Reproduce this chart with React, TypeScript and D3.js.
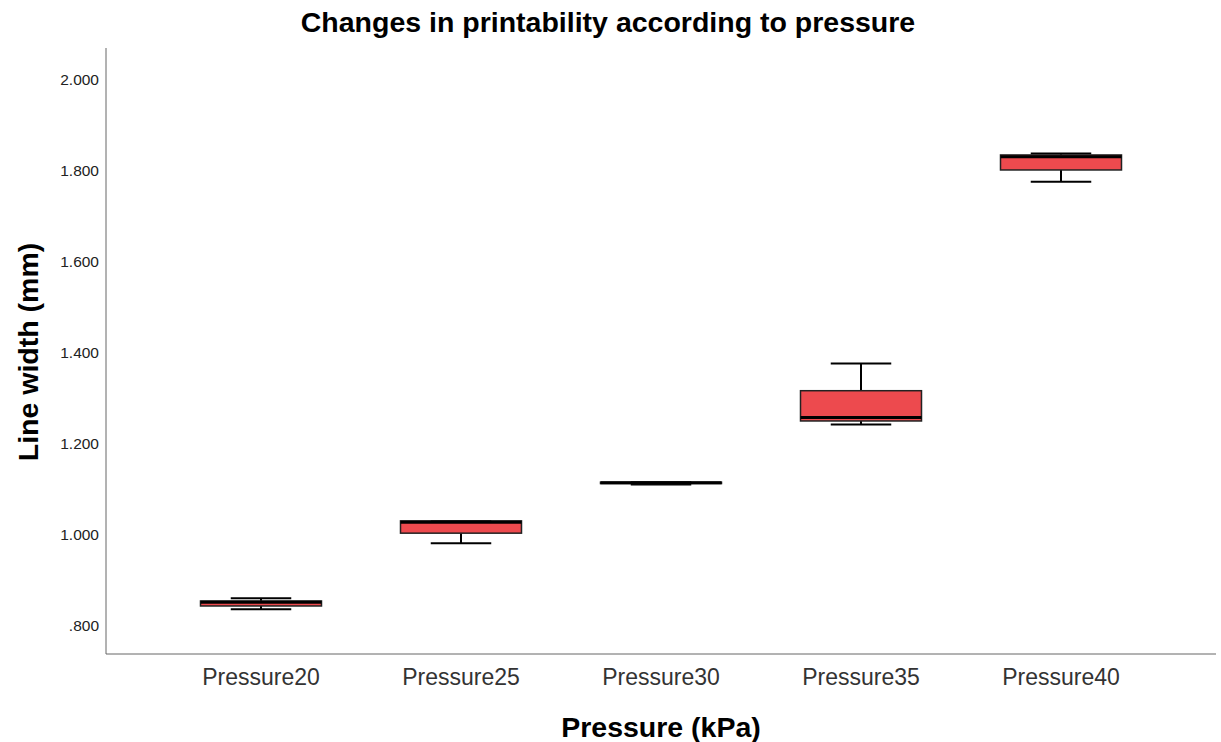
import React from 'react'
import * as d3 from 'd3'

const categories = ['Pressure20', 'Pressure25', 'Pressure30', 'Pressure35', 'Pressure40']
const mins = [0.837, 0.982, 1.111, 1.243, 1.776]
const q1s = [0.844, 1.004, 1.113, 1.2505, 1.802]
const medians = [0.852, 1.028, 1.115, 1.258, 1.831]
const q3s = [0.855, 1.031, 1.116, 1.317, 1.835]
const maxs = [0.861, 1.031, 1.116, 1.377, 1.838]
const yTicks = [0.8, 1.0, 1.2, 1.4, 1.6, 1.8, 2.0]

const W = 1221
const H = 742
const left = 106
const right = 1216
const top = 48
const bottom = 654

function App() {
  const x = d3.scaleBand<string>()
    .domain(categories)
    .range([left, right])
    .paddingInner(0.395)
    .paddingOuter(0.4725)
  const y = d3.scaleLinear().domain([0.7385, 2.07]).range([bottom, top])
  const fmt = (v: number) => {
    const s = d3.format('.3f')(v)
    return s.startsWith('0') ? s.slice(1) : s
  }
  const bw = x.bandwidth()

  return (
    <svg width={W} height={H} style={{ position: 'absolute', left: 0, top: 0 }}
      fontFamily="'Liberation Sans', Arial, sans-serif">
      <rect width={W} height={H} fill="#fff" />
      <text x={608} y={32} textAnchor="middle" fontSize={28.5} fontWeight="bold" fill="#000">
        Changes in printability according to pressure
      </text>

      {/* axes */}
      <line x1={left} x2={left} y1={top} y2={bottom} stroke="#666" strokeWidth={1} />
      <line x1={left} x2={right} y1={bottom} y2={bottom} stroke="#666" strokeWidth={1} />

      {yTicks.map(t => (
        <text key={t} x={99} y={y(t)} dy="0.35em" textAnchor="end" fontSize={15.5} fill="#222">
          {fmt(t)}
        </text>
      ))}

      {categories.map((c, i) => {
        const x0 = x(c)!
        const cx = x0 + bw / 2
        const capW = bw / 2
        return (
          <g key={c}>
            <line x1={cx} x2={cx} y1={y(maxs[i])} y2={y(q3s[i])} stroke="#000" strokeWidth={2} />
            <line x1={cx} x2={cx} y1={y(q1s[i])} y2={y(mins[i])} stroke="#000" strokeWidth={2} />
            <line x1={cx - capW / 2} x2={cx + capW / 2} y1={y(maxs[i])} y2={y(maxs[i])} stroke="#000" strokeWidth={2} />
            <line x1={cx - capW / 2} x2={cx + capW / 2} y1={y(mins[i])} y2={y(mins[i])} stroke="#000" strokeWidth={2} />
            <rect x={x0} y={y(q3s[i])} width={bw} height={Math.max(0.5, y(q1s[i]) - y(q3s[i]))}
              fill="#ED4A4E" stroke="#222" strokeWidth={1.5} />
            <line x1={x0} x2={x0 + bw} y1={y(medians[i])} y2={y(medians[i])} stroke="#000" strokeWidth={3} />
            <text x={cx} y={685} textAnchor="middle" fontSize={23} fill="#333">{c}</text>
          </g>
        )
      })}

      <text x={661} y={737} textAnchor="middle" fontSize={28.5} fontWeight="bold" fill="#000">
        Pressure (kPa)
      </text>
      <text transform={`translate(38,352) rotate(-90)`} textAnchor="middle" fontSize={28.5} fontWeight="bold" fill="#000">
        Line width (mm)
      </text>
    </svg>
  )
}

export default App
